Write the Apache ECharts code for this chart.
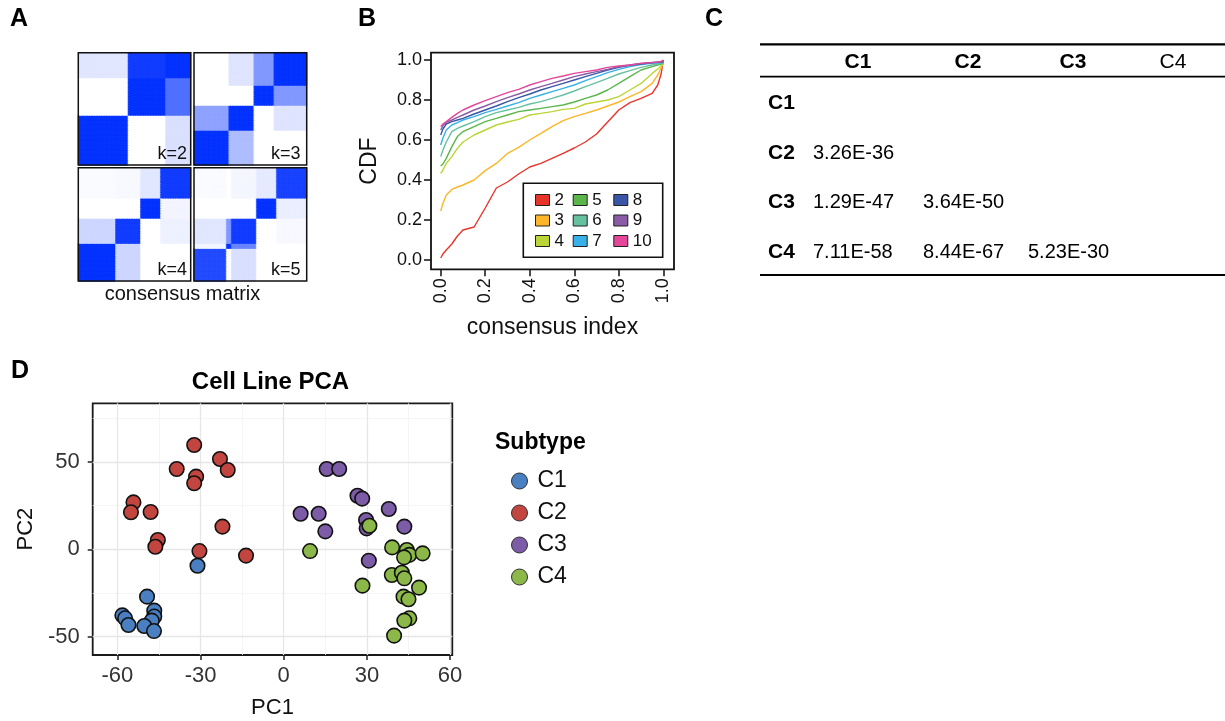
<!DOCTYPE html>
<html><head><meta charset="utf-8">
<script src="https://cdn.jsdelivr.net/npm/echarts@6/dist/echarts.min.js"></script>
<style>html,body{margin:0;padding:0;background:#fff}#c{width:1225px;height:721px}</style>
</head><body><div id="c"></div>
<script>
const FONT = '"Liberation Sans", Arial, Helvetica, sans-serif';

// ---------- Panel A: consensus matrices (block structure) ----------
const kLabels = ['k=2', 'k=3', 'k=4', 'k=5'];
const groupSizesK2 = [20, 15, 10];
const blocksK2 = [
  [1.00, 0.00, 0.15],
  [0.00, 1.00, 0.70],
  [0.12, 0.95, 1.00]
];
const groupSizesK3 = [14, 10, 8, 13];
const blocksK3 = [
  [1.00, 0.32, 0.00, 0.00],
  [0.45, 1.00, 0.00, 0.13],
  [0.00, 0.00, 1.00, 0.50],
  [0.00, 0.13, 0.50, 1.00]
];
const groupSizesK4 = [15, 10, 8, 12];
const blocksK4 = [
  [1.00, 0.20, 0.00, 0.00],
  [0.20, 0.95, 0.00, 0.07],
  [0.00, 0.00, 1.00, 0.05],
  [0.02, 0.03, 0.12, 0.95]
];
const groupSizesK5 = [13, 2, 10, 8, 12];
const blocksK5 = [
  [0.88, 0.00, 0.15, 0.00, 0.00],
  [0.05, 1.00, 0.60, 0.00, 0.00],
  [0.12, 0.50, 0.95, 0.00, 0.03],
  [0.00, 0.00, 0.00, 1.00, 0.08],
  [0.02, 0.00, 0.04, 0.10, 0.92]
];
const heatLow = [255, 255, 255];
const heatHigh = [5, 51, 255];

// ---------- Panel B: CDF curves ----------
const cdfX = [0, 0.01, 0.025, 0.05, 0.075, 0.1, 0.15, 0.2, 0.25, 0.3, 0.35, 0.4, 0.45, 0.5, 0.55, 0.6, 0.65, 0.7, 0.75, 0.8, 0.85, 0.9, 0.95, 0.975, 0.99, 1.0];
const cdfK2 = [0.01, 0.03, 0.05, 0.08, 0.12, 0.15, 0.165, 0.26, 0.36, 0.39, 0.43, 0.465, 0.483, 0.508, 0.533, 0.56, 0.59, 0.63, 0.69, 0.75, 0.787, 0.808, 0.833, 0.875, 0.93, 1.0];
const cdfK3 = [0.245, 0.283, 0.325, 0.353, 0.365, 0.375, 0.40, 0.447, 0.483, 0.533, 0.563, 0.60, 0.633, 0.667, 0.697, 0.717, 0.733, 0.75, 0.77, 0.79, 0.817, 0.842, 0.883, 0.925, 0.96, 0.985];
const cdfK4 = [0.433, 0.45, 0.483, 0.517, 0.558, 0.59, 0.625, 0.65, 0.675, 0.69, 0.703, 0.725, 0.733, 0.742, 0.753, 0.758, 0.78, 0.79, 0.80, 0.817, 0.85, 0.883, 0.933, 0.955, 0.97, 0.98];
const cdfK5 = [0.47, 0.48, 0.508, 0.567, 0.617, 0.642, 0.667, 0.692, 0.708, 0.725, 0.742, 0.75, 0.758, 0.767, 0.775, 0.79, 0.808, 0.825, 0.85, 0.883, 0.917, 0.95, 0.967, 0.975, 0.98, 0.985];
const cdfK6 = [0.517, 0.55, 0.59, 0.642, 0.658, 0.67, 0.692, 0.717, 0.737, 0.75, 0.763, 0.78, 0.792, 0.808, 0.825, 0.845, 0.867, 0.887, 0.908, 0.93, 0.947, 0.963, 0.975, 0.98, 0.983, 0.985];
const cdfK7 = [0.575, 0.61, 0.65, 0.675, 0.687, 0.70, 0.717, 0.737, 0.753, 0.77, 0.787, 0.808, 0.825, 0.842, 0.858, 0.875, 0.897, 0.917, 0.937, 0.953, 0.967, 0.977, 0.983, 0.985, 0.987, 0.99];
const cdfK8 = [0.625, 0.655, 0.68, 0.692, 0.70, 0.708, 0.73, 0.75, 0.77, 0.792, 0.812, 0.83, 0.85, 0.867, 0.883, 0.90, 0.917, 0.933, 0.95, 0.963, 0.973, 0.98, 0.987, 0.988, 0.99, 0.99];
const cdfK9 = [0.65, 0.672, 0.688, 0.70, 0.713, 0.725, 0.75, 0.77, 0.792, 0.812, 0.83, 0.85, 0.867, 0.883, 0.90, 0.917, 0.93, 0.942, 0.953, 0.967, 0.975, 0.983, 0.988, 0.99, 0.99, 0.995];
const cdfK10 = [0.667, 0.68, 0.692, 0.713, 0.733, 0.75, 0.775, 0.797, 0.817, 0.837, 0.853, 0.875, 0.892, 0.908, 0.92, 0.933, 0.942, 0.95, 0.963, 0.97, 0.975, 0.983, 0.987, 0.99, 0.993, 1.0];
const cdfNames = ['2', '3', '4', '5', '6', '7', '8', '9', '10'];
const cdfColors = ['#e9342a', '#fdb627', '#bad535', '#5ab64b', '#66c1a0', '#37b1e7', '#3a56a6', '#8a5ca7', '#e4479a'];
const cdfTicks = [0, 0.2, 0.4, 0.6, 0.8, 1.0];

// ---------- Panel C: p-value table ----------
const tableHeads = ['C1', 'C2', 'C3', 'C4'];
const pRowC1 = [];
const pRowC2 = ['3.26E-36'];
const pRowC3 = ['1.29E-47', '3.64E-50'];
const pRowC4 = ['7.11E-58', '8.44E-67', '5.23E-30'];

// ---------- Panel D: PCA ----------
const pcaC1 = [[-31.1, -9.4], [-49.3, -27.1], [-46.7, -35.1], [-46.7, -38.5], [-47.6, -40.8], [-50.3, -43.9], [-46.8, -46.8], [-58.2, -37.8], [-57.2, -39.5], [-56.0, -43.3]];
const pcaC2 = [[-32.3, 59.7], [-38.6, 46.0], [-23.0, 51.7], [-20.2, 45.4], [-31.6, 41.6], [-32.3, 37.8], [-54.2, 26.9], [-55.1, 21.2], [-48.0, 21.4], [-22.1, 13.0], [-45.4, 5.3], [-46.3, 1.5], [-30.4, -1.0], [-13.6, -3.6]];
const pcaC3 = [[15.5, 46.0], [20.0, 46.0], [26.6, 30.7], [28.3, 29.0], [6.1, 20.4], [12.6, 20.4], [15.0, 10.3], [37.9, 23.1], [29.7, 16.8], [29.9, 12.0], [43.5, 13.0], [30.7, -6.5]];
const pcaC4 = [[30.9, 13.5], [9.5, -1.0], [39.1, 1.1], [44.4, -0.4], [45.3, -3.2], [43.4, -4.6], [50.1, -2.3], [39.0, -14.7], [42.6, -13.4], [43.5, -16.6], [28.4, -20.8], [48.8, -21.9], [43.2, -27.1], [45.0, -28.6], [45.3, -39.5], [43.5, -40.8], [39.8, -49.4]];
const subtypeNames = ['C1', 'C2', 'C3', 'C4'];
const subtypeColors = ['#4a80c1', '#c2463f', '#7c5ba7', '#8cb84a'];
const pcaXTicks = [-60, -30, 0, 30, 60];
const pcaYTicks = [-50, 0, 50];
const pcaXMinor = [-45, -15, 15, 45];
const pcaYMinor = [-25, 25, 75];

// ---------- build ----------
function heatColor(v) {
  const c = heatLow.map((lo, i) => Math.round(lo + (heatHigh[i] - lo) * v));
  return 'rgb(' + c.join(',') + ')';
}
function expandMatrix(sizes, blocks) {
  const idx = [];
  sizes.forEach((s, g) => { for (let i = 0; i < s; i++) idx.push(g); });
  const data = [];
  for (let r = 0; r < idx.length; r++)
    for (let c = 0; c < idx.length; c++) {
      const v = blocks[idx[r]][idx[c]];
      const col = heatColor(v);
      data.push({ value: [c, r, v], itemStyle: { color: col, borderColor: col, borderWidth: 0.6 } });
    }
  return { n: idx.length, data };
}
const mats = [
  expandMatrix(groupSizesK2, blocksK2),
  expandMatrix(groupSizesK3, blocksK3),
  expandMatrix(groupSizesK4, blocksK4),
  expandMatrix(groupSizesK5, blocksK5)
];
const hmBoxes = [
  { left: 78.3, top: 52.7, width: 112.4, height: 112.3 },
  { left: 194, top: 52.7, width: 112.7, height: 112.3 },
  { left: 78.3, top: 167.7, width: 112.4, height: 113.3 },
  { left: 194, top: 167.7, width: 112.7, height: 113.3 }
];

const grids = [], xAxes = [], yAxes = [], series = [];
mats.forEach((m, i) => {
  grids.push(Object.assign({ show: true, z: 10, backgroundColor: 'transparent', borderColor: '#111', borderWidth: 1.5 }, hmBoxes[i]));
  const cats = Array.from({ length: m.n }, (_, j) => String(j));
  xAxes.push({ type: 'category', gridIndex: i, data: cats, show: false });
  yAxes.push({ type: 'category', gridIndex: i, data: cats, show: false });
  series.push({
    type: 'heatmap', xAxisIndex: i, yAxisIndex: i, data: m.data, silent: true,
    progressive: 0, emphasis: { disabled: true }
  });
});

// Grid B (index 4)
grids.push({ show: true, left: 431, top: 52.7, width: 243, height: 216.6, borderColor: '#111', borderWidth: 1.8, backgroundColor: '#fff' });
xAxes.push({
  type: 'value', gridIndex: 4, min: -0.0436, max: 1.048,
  axisLine: { show: false, onZero: false }, splitLine: { show: false },
  axisTick: { show: true, customValues: cdfTicks, length: 7, lineStyle: { color: '#111', width: 1.5 } },
  axisLabel: { customValues: cdfTicks, rotate: 90, margin: 9, fontSize: 18, color: '#111', fontFamily: FONT, formatter: v => v.toFixed(1) },
  name: 'consensus index', nameLocation: 'middle', nameGap: 47,
  nameTextStyle: { fontSize: 23, color: '#111', fontFamily: FONT }
});
yAxes.push({
  type: 'value', gridIndex: 4, min: -0.0465, max: 1.0365,
  axisLine: { show: false, onZero: false }, splitLine: { show: false },
  axisTick: { show: true, customValues: cdfTicks, length: 7, lineStyle: { color: '#111', width: 1.5 } },
  axisLabel: { customValues: cdfTicks, margin: 9, fontSize: 18, color: '#111', fontFamily: FONT, formatter: v => v.toFixed(1) },
  name: 'CDF', nameLocation: 'middle', nameGap: 50,
  nameTextStyle: { fontSize: 23, color: '#111', fontFamily: FONT }
});
const cdfSeriesVals = [cdfK2, cdfK3, cdfK4, cdfK5, cdfK6, cdfK7, cdfK8, cdfK9, cdfK10];
cdfSeriesVals.forEach((vals, i) => {
  series.push({
    type: 'line', name: cdfNames[i], xAxisIndex: 4, yAxisIndex: 4,
    data: cdfX.map((x, j) => [x, vals[j]]), showSymbol: false, symbol: 'none', silent: true,
    lineStyle: { color: cdfColors[i], width: 1.4 }, itemStyle: { color: cdfColors[i] }
  });
});

// Grid D (index 5)
grids.push({ show: true, left: 92.7, top: 403.3, width: 359.6, height: 251.7, borderColor: '#1a1a1a', borderWidth: 1.8, backgroundColor: '#fff' });
xAxes.push({
  type: 'value', gridIndex: 5, min: -68.9, max: 60.8,
  axisLine: { show: false, onZero: false }, splitLine: { show: false },
  axisTick: { show: true, customValues: pcaXTicks, length: 5, lineStyle: { color: '#222', width: 1.5 } },
  axisLabel: { customValues: pcaXTicks, margin: 10, fontSize: 22, color: '#333', fontFamily: FONT },
  name: 'PC1', nameLocation: 'middle', nameGap: 42,
  nameTextStyle: { fontSize: 22, color: '#111', fontFamily: FONT }
});
yAxes.push({
  type: 'value', gridIndex: 5, min: -60.5, max: 83.6,
  axisLine: { show: false, onZero: false }, splitLine: { show: false },
  axisTick: { show: true, customValues: pcaYTicks, length: 5, lineStyle: { color: '#222', width: 1.5 } },
  axisLabel: { customValues: pcaYTicks, margin: 13, fontSize: 22, color: '#333', fontFamily: FONT },
  name: 'PC2', nameLocation: 'middle', nameGap: 56,
  nameTextStyle: { fontSize: 22, color: '#111', fontFamily: FONT }
});
const majorLine = { color: '#e6e6e6', width: 1.3, type: 'solid' };
const minorLine = { color: '#f3f3f3', width: 0.8, type: 'solid' };
series.push({
  type: 'scatter', name: 'gridlines', xAxisIndex: 5, yAxisIndex: 5, data: [], silent: true, z: 1,
  markLine: {
    z: 1, silent: true, symbol: ['none', 'none'], label: { show: false }, animation: false,
    data: [].concat(
      pcaXMinor.map(v => ({ xAxis: v, lineStyle: minorLine })),
      pcaYMinor.map(v => ({ yAxis: v, lineStyle: minorLine })),
      pcaXTicks.map(v => ({ xAxis: v, lineStyle: majorLine })),
      pcaYTicks.map(v => ({ yAxis: v, lineStyle: majorLine }))
    )
  }
});
[pcaC1, pcaC2, pcaC3, pcaC4].forEach((pts, i) => {
  series.push({
    type: 'scatter', name: subtypeNames[i], xAxisIndex: 5, yAxisIndex: 5, data: pts, symbolSize: 14.5, z: 3,
    itemStyle: { color: subtypeColors[i], borderColor: '#111', borderWidth: 1.6, opacity: 1 }, silent: true
  });
});

// legends
const legendB = (names, left) => ({
  data: names, orient: 'vertical', left: left, top: 191.5, itemWidth: 14, itemHeight: 11, itemGap: 3.5,
  icon: 'rect', selectedMode: false, padding: 0,
  itemStyle: { borderColor: '#222', borderWidth: 1 },
  textStyle: { fontSize: 17, color: '#111', fontFamily: FONT }
});
const legends = [
  legendB(['2', '3', '4'], 535),
  legendB(['5', '6', '7'], 572.7),
  legendB(['8', '9', '10'], 613.3),
  {
    data: subtypeNames, orient: 'vertical', left: 511, top: 469.5, itemWidth: 16, itemHeight: 16, itemGap: 9,
    icon: 'circle', selectedMode: false, padding: 0,
    itemStyle: { borderColor: '#333', borderWidth: 1 },
    textStyle: { fontSize: 23, color: '#111', fontFamily: FONT, padding: [0, 0, 0, 5] }
  }
];

// graphics (panel letters, labels, table)
const txt = (x, y, text, size, bold, align, color) => ({
  type: 'text', x: x, y: y, silent: true, z: 100,
  style: { text: text, font: (bold ? 'bold ' : '') + size + 'px ' + FONT, fill: color || '#000', align: align || 'left', verticalAlign: 'middle', textAlign: align || 'left', textVerticalAlign: 'middle' }
});
const hline = (x1, x2, y, w) => ({ type: 'line', silent: true, z: 100, shape: { x1: x1, y1: y, x2: x2, y2: y }, style: { stroke: '#000', lineWidth: w } });
const graphics = [
  txt(10, 19.5, 'A', 25, true), txt(358, 19, 'B', 25, true), txt(705, 19, 'C', 25, true), txt(11, 371, 'D', 25, true),
  txt(187, 154.5, kLabels[0], 18, false, 'right', '#111'),
  txt(300.5, 154.5, kLabels[1], 18, false, 'right', '#111'),
  txt(187, 270.5, kLabels[2], 18, false, 'right', '#111'),
  txt(300.5, 270.5, kLabels[3], 18, false, 'right', '#111'),
  txt(182.5, 294.5, 'consensus matrix', 20, false, 'center', '#111'),
  { type: 'rect', silent: true, z: 100, shape: { x: 523.3, y: 183.3, width: 139.4, height: 74 }, style: { fill: 'none', stroke: '#111', lineWidth: 1.6 } },
  txt(495, 443, 'Subtype', 23, true, 'left', '#000'),
  hline(760, 1225, 44.3, 2.2), hline(760, 1225, 76.7, 1.8), hline(760, 1225, 275, 2.2)
];
const colCenters = [858, 968, 1073, 1173];
tableHeads.forEach((h, i) => graphics.push(txt(colCenters[i], 62, h, 21, i < 3, 'center', '#000')));
const rowYs = [103, 153, 202, 252];
const valueLefts = [813, 923, 1028];
[pRowC1, pRowC2, pRowC3, pRowC4].forEach((row, r) => {
  graphics.push(txt(768, rowYs[r], tableHeads[r], 21, true, 'left', '#000'));
  row.forEach((v, c) => graphics.push(txt(valueLefts[c], rowYs[r], v, 20, false, 'left', '#000')));
});

const chart = echarts.init(document.getElementById('c'), null, { renderer: 'canvas' });
chart.setOption({
  animation: false,
  backgroundColor: '#fff',
  textStyle: { fontFamily: FONT },
  title: {
    text: 'Cell Line PCA', left: 265.5, textAlign: 'center', top: 365,
    textStyle: { fontSize: 24, fontWeight: 'bold', color: '#000', fontFamily: FONT }
  },
  grid: grids, xAxis: xAxes, yAxis: yAxes, series: series,
  legend: legends,
  graphic: graphics
});
</script>
</body></html>
